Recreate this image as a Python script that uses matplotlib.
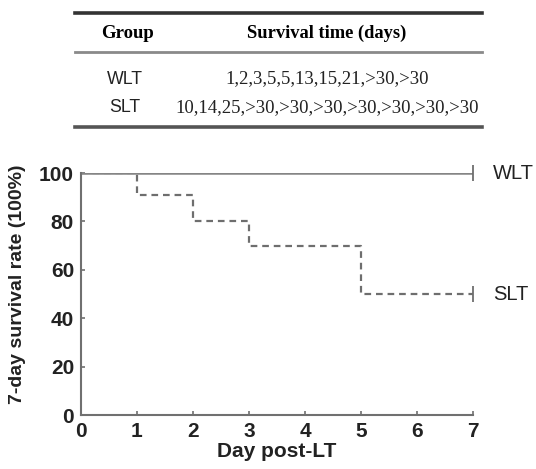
import matplotlib
matplotlib.use('Agg')
import matplotlib.pyplot as plt
from matplotlib.lines import Line2D

# table contents
table_header = ['Group', 'Survival time (days)']
groups = ['WLT', 'SLT']
survival_times = ['1,2,3,5,5,13,15,21,>30,>30',
                  '10,14,25,>30,>30,>30,>30,>30,>30,>30']

# Kaplan-Meier curves (day, survival %)
wlt_days = [0, 7]
wlt_surv = [100, 100]
slt_days = [0, 1, 2, 3, 5, 7]
slt_surv = [100, 91, 80, 70, 50, 50]

W, H = 536, 469
fig = plt.figure(figsize=(W / 100, H / 100), dpi=100)

def fx(px):
    return px / W

def fy(py):
    return 1 - py / H

# --- table at the top ---
for y, lw, col in [(13, 2.6, '#333333'), (52, 2.0, '#8a8a8a'), (127, 2.6, '#555555')]:
    fig.add_artist(Line2D([fx(75), fx(482)], [fy(y), fy(y)], lw=lw, color=col,
                          transform=fig.transFigure))

fig.text(fx(127), fy(33), table_header[0], ha='center', va='center',
         family='Liberation Serif', fontweight='bold', fontsize=13.5)
fig.text(fx(327), fy(33), table_header[1], ha='center', va='center',
         family='Liberation Serif', fontweight='bold', fontsize=13.3)
for i, (g, t) in enumerate(zip(groups, survival_times)):
    y = 79 + i * 29
    fig.text(fx(125), fy(y), g, ha='center', va='center',
             family='Liberation Sans', fontsize=12.8, color='#222222')
    fig.text(fx(327), fy(y), t, ha='center', va='center',
             family='Liberation Serif', fontsize=13.5, color='#222222')

# --- survival plot ---
ax = fig.add_axes([fx(81), fy(415), fx(473) - fx(81), fy(173) - fy(415)])
ax.step(slt_days, slt_surv, where='post', color='#6e6e6e', lw=1.6,
        linestyle=(0, (3.0, 2.2)))
ax.plot(wlt_days, wlt_surv, color='#858585', lw=1.8)
ax.plot([7, 7], [100, 50], linestyle='none', marker='|', markersize=11,
        markeredgewidth=1.3, color='#6e6e6e', clip_on=False)

ax.text(7.36, 100, 'WLT', va='center', ha='left', family='Liberation Sans',
        fontsize=14.5, color='#222222')
ax.text(7.36, 50, 'SLT', va='center', ha='left', family='Liberation Sans',
        fontsize=14.5, color='#222222')

ax.set_xlim(0, 7)
ax.set_ylim(0, 100)
ax.set_xticks(range(0, 8))
ax.set_yticks(range(0, 101, 20))
for s in ['top', 'right']:
    ax.spines[s].set_visible(False)
for s in ['left', 'bottom']:
    ax.spines[s].set_color('#707070')
    ax.spines[s].set_linewidth(1.5)
ax.tick_params(direction='in', length=3, width=1.2, color='#707070',
               labelsize=15)
ax.tick_params(axis='x', pad=5)
ax.tick_params(axis='y', pad=5)
for lab in ax.get_xticklabels() + ax.get_yticklabels():
    lab.set_fontweight('bold')
    lab.set_family('Liberation Sans')
    lab.set_color('#222222')

ax.set_xlabel('Day post-LT', family='Liberation Sans', fontweight='bold',
              fontsize=15, labelpad=1, color='#222222')
ax.set_ylabel('7-day survival rate (100%)', family='Liberation Sans',
              fontweight='bold', fontsize=14, color='#222222')
ax.yaxis.set_label_coords(-0.14, 0.54)

fig.savefig('out.png', dpi=100)
